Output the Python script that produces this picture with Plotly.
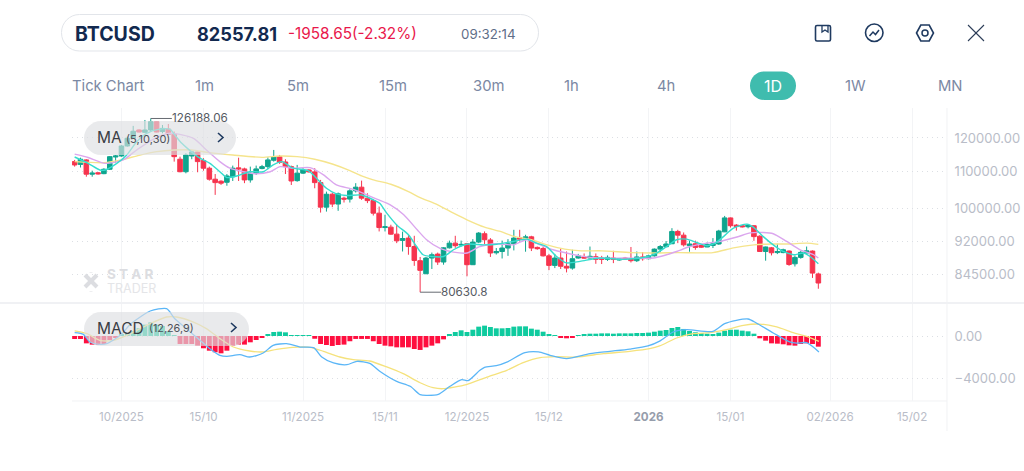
import math
import plotly.graph_objects as go
from plotly.subplots import make_subplots

W, H = 1024, 471

# Daily BTCUSD candles, prices in thousands of USD
candle_open = [
    112.9,112.1,113.4,109.3,109.7,109.45,110.7,114.25,114.55,117.55,
    119.9,122.5,121.75,122.5,125.15,122.0,122.8,121.15,113.6,110.0,
    114.55,115.75,113.2,111.0,107.9,107.35,107.05,108.6,111.1,110.8,
    107.7,109.6,110.9,111.45,113.3,114.35,112.8,111.45,107.5,109.6,
    110.5,109.95,106.95,100.4,103.8,101.2,102.75,102.5,104.7,105.7,
    102.75,102.1,98.85,95.25,95.35,93.65,92.15,92.7,90.7,87.45,
    84.55,88.05,88.95,87.15,90.4,91.5,91.05,91.35,86.55,91.75,
    93.75,92.25,89.25,89.55,90.35,91.35,92.75,92.6,93.0,90.5,
    90.25,88.55,86.4,88.05,86.2,85.8,88.05,88.3,88.05,88.35,
    88.05,87.75,88.05,87.6,88.05,87.9,87.45,88.3,87.9,88.55,
    90.1,90.65,91.35,94.3,93.4,90.9,91.35,90.95,90.6,90.95,
    91.3,94.2,97.65,95.85,95.7,95.45,95.7,93.15,89.55,90.4,
    89.3,89.3,89.65,86.75,88.2,89.2,89.65,84.51646]
candle_high = [
    113.39,114.05,113.6,110.3,109.9,111.0,114.55,114.85,117.85,120.4,
    123.8,122.7,125.7,126.18806,125.2,124.09,124.4,122.0,114.35,115.35,
    116.05,115.85,113.9,111.45,109.35,107.6,109.35,111.75,114.05,111.15,
    111.45,111.75,111.95,114.15,116.35,114.85,113.6,111.75,111.95,111.0,
    110.7,111.0,107.7,104.5,104.25,104.25,103.15,105.15,106.8,107.5,
    104.05,102.5,100.55,98.45,95.95,95.95,94.25,93.5,93.25,88.3,
    88.3,89.3,89.3,90.55,92.1,93.25,92.1,91.5,92.45,94.15,
    94.3,92.7,90.35,92.1,92.45,94.7,94.7,93.5,93.25,90.7,
    90.7,89.0,89.0,90.25,89.55,89.95,89.0,89.1,90.7,89.1,
    88.55,88.65,89.7,88.05,88.3,90.6,89.55,89.4,88.8,90.25,
    91.05,92.0,95.1,94.7,94.05,92.1,92.1,91.1,91.65,92.7,
    94.7,98.15,97.75,96.1,95.85,96.15,95.85,93.4,90.7,90.6,
    91.35,90.2,89.8,88.65,89.65,90.7,89.8,84.8]
candle_low = [
    111.45,111.2,108.6,108.6,109.2,109.3,110.5,112.6,114.35,117.35,
    119.7,121.75,121.65,122.0,121.75,121.45,120.93,112.9,109.85,109.55,
    113.6,109.85,110.3,107.5,103.62,106.32,106.1,107.4,107.4,106.8,
    106.95,109.1,110.7,110.7,112.9,112.25,109.35,106.3,107.2,109.35,
    109.75,105.4,99.0,99.25,100.4,99.45,101.6,101.6,104.25,102.3,
    101.45,98.25,94.3,94.3,93.5,91.5,89.55,88.8,86.3,80.6308,
    84.5,85.6,86.5,86.55,90.25,90.4,90.7,84.0,86.5,91.5,
    91.3,88.3,88.85,87.95,88.55,89.8,91.85,89.5,89.65,89.95,
    88.4,85.35,85.8,85.6,84.85,85.45,87.9,87.95,87.95,86.75,
    86.7,87.4,86.9,87.45,87.65,87.05,87.15,87.45,87.75,88.4,
    89.3,90.55,91.3,91.5,90.7,89.5,89.95,90.35,90.55,90.35,
    91.1,94.15,95.25,94.5,95.25,95.05,92.05,89.5,87.45,88.65,
    88.95,89.15,86.3,86.15,87.9,89.05,83.65,81.35]
candle_close = [
    111.94,113.6,109.3,109.6,109.4,110.7,114.35,114.55,117.55,119.9,
    122.1,121.85,122.5,125.15,121.85,123.0,121.15,114.35,110.0,114.85,
    115.75,112.9,111.0,107.9,106.95,106.8,108.8,111.0,110.8,107.7,
    109.6,110.8,111.45,113.4,114.35,112.7,111.45,107.4,109.6,110.5,
    109.95,106.95,100.4,103.8,101.2,103.9,102.5,104.7,105.7,102.75,
    102.1,98.85,95.25,95.45,93.65,92.05,92.6,90.7,87.5,85.3,
    88.05,88.8,87.15,90.4,91.5,90.9,91.2,86.55,91.75,93.9,
    92.3,89.2,89.55,90.35,91.35,92.7,92.45,93.0,90.35,90.2,
    88.55,86.4,88.05,86.2,85.8,87.9,88.55,88.05,88.45,87.75,
    87.75,88.2,87.75,87.9,87.85,87.45,88.3,87.9,88.55,90.1,
    90.7,91.3,94.3,93.4,91.1,91.3,90.5,90.55,91.2,91.35,
    94.4,97.65,95.7,95.5,95.45,95.85,93.05,89.55,90.6,89.25,
    89.55,89.95,86.6,88.2,89.35,89.7,84.7,82.55781]

# Moving averages, sampled at the listed candle numbers
ma5_idx = [0,2.3,4.3,5.2,7.2,8.9,10.6,12.3,14.3,16.3,17.1,18.3,19.4,21.4,23.1,24.8,26,27.7,29.9,32.2,33.9,35.4,37.3,39.9,41.3,43,44.7,46.4,49,51,52.1,53.3,55,57,58.4,59.5,61,63,64.7,66.9,69.8,72.1,74.9,77.2,78.9,80.6,82.3,84,86.3,89.7,93.7,97.7,99.4,101.1,102.8,104.5,106.2,108,109.4,110.8,112.5,114.8,115.9,117.6,119.3,121,122.8,124.5,125.6,127]
ma5_val = [114.25,112.4,110.5,110.5,112.4,114.85,118.85,121.45,122.7,122.7,120.9,118.35,116.6,113.9,112.4,110,108.35,108.8,110,110,111.95,112.9,111,110.3,108.15,105.4,103.9,103.45,103.6,102.3,101.4,98.85,95.9,93.5,90.7,88.8,88.4,88.4,89.95,91.25,91.1,91.25,91.9,92.45,91.5,90.7,88.4,86.95,87.3,88.05,87.75,88.35,89.2,90.7,92.3,92.45,91.65,90.9,91.5,93.05,95.1,96.1,95.35,93.05,91.1,89.55,88.8,89.2,88.4,86.75]
ma10_idx = [0,2.3,5.2,8.3,10.6,13.4,16.3,20.3,22.5,24.8,26.5,28.8,31,33.4,35.1,37.3,40.2,42.5,44.7,47.6,51.6,53.9,56.2,58.5,60.1,62.4,64.7,67,69.2,72.1,74.9,77.2,79.5,81.7,84,86.3,89.7,94,98.8,101.1,102.8,105.1,108,110.2,113.1,115.4,117.6,119.3,121.6,123.9,126.2,127]
ma10_val = [115.1,114.1,112.4,113.4,116.35,119.6,121.45,119.9,116.35,112.9,111,110,109.4,110,111.45,111,111.15,109.1,106.3,105.1,102.5,101,98.45,94.7,92.3,90.25,89.4,89.2,90.7,91.35,91.1,92.3,91.1,89.95,89.2,88.55,88.05,88.05,88.05,88.8,89.55,90.7,91.5,91.9,92.95,93.95,94.05,93.75,91.9,89.95,88.8,88.05]
ma30_idx = [0,5,8,11,14,17,20,23,27,32,35,38,41,44,47,49,51,54,57,59,62,64.7,67,70,72.7,75,78,80.7,83.7,86.5,90,95,99,103,109,112.5,116,119,122,125,127]
ma30_val = [112.9,112.6,113.4,114.75,115.85,116.35,116.35,115.55,114.85,114.15,114.55,114.35,113.6,112.2,110.3,108.8,107.7,106.5,104.5,102.9,101,98.85,97.17,95.35,94.3,93.1,92.3,91.1,90.1,89.7,89.7,89.3,89.2,89.3,89.3,90.4,91.1,91.3,91.3,91.5,91.2]

# MACD(12,26,9) histogram for every candle
macd_hist = [
    -285,-285,-700,-825,-860,-760,-380,-190,190,250,
    450,750,1080,1300,1080,950,450,60,-760,-760,
    -760,-920,-1170,-1400,-1550,-1650,-1400,-920,-820,-820,
    -600,-380,-190,190,380,410,350,30,30,30,
    20,-260,-760,-860,-950,-860,-820,-500,-280,-280,
    -280,-500,-760,-920,-985,-1080,-1080,-1080,-1240,-1330,
    -1080,-920,-700,-320,190,380,540,380,600,890,
    985,860,730,730,760,890,920,920,700,600,
    410,130,60,-160,-220,-100,20,130,220,220,
    250,250,220,250,250,250,285,285,320,410,
    510,570,760,860,670,480,350,285,220,190,
    320,510,600,600,510,445,220,-220,-445,-700,
    -730,-790,-890,-920,-760,-700,-760,-1015]

dif_idx = [0,1.5,2.6,4.3,5.5,7.8,9.5,11.2,12.9,15.7,17.1,19.1,21.4,23.1,24.8,26,28.2,29.9,32.2,33.9,36.2,38.5,40.8,42.2,44.2,46.5,48.2,50.4,52.1,55,57.3,59,60.1,62.1,64.1,66.1,67.2,69.2,70,72,73.8,76.9,79.2,81.2,84,88,91.4,94.8,97.9,99.9,102.2,104.5,109,111,113,115,116.4,119.3,122.1,123.3,125,127.1]
dif_val = [320,160,-570,-790,-730,60,1110,1810,2380,2600,1650,700,-410,-1210,-1840,-1940,-1780,-2000,-1620,-890,-730,-1050,-1110,-2000,-2570,-2730,-2410,-2600,-3350,-4320,-4790,-5590,-5650,-5560,-4790,-4160,-4250,-3270,-2980,-2830,-2480,-1590,-1520,-1840,-2160,-1680,-1460,-1240,-950,-490,380,600,440,1170,1490,1620,1240,290,-570,-670,-640,-1520]
dea_idx = [0,2.1,4.3,6.6,8.9,12.3,15.7,17.4,20.3,22.5,24.8,27.1,29.9,32.2,34.5,37.3,40.2,42.5,45.3,47.6,50.4,53.3,56.1,59,61.2,62.9,66.9,70.4,73.8,76.6,79.5,82.3,85.7,90.3,94.8,98.2,99.9,102.8,105.6,108.5,111.3,114.2,117,119.9,122.7,125,127.1]
dea_val = [480,220,-410,-410,60,1020,1810,1810,1330,700,-250,-1050,-1430,-1520,-1270,-1080,-1080,-1460,-2000,-2250,-2380,-2950,-3590,-4450,-4920,-5020,-4640,-3910,-3270,-2540,-2060,-1970,-2000,-1680,-1460,-1210,-950,-190,220,320,600,1020,1140,860,320,-30,-510]

# Axis ticks
date_ticks = [8,22,39,53,67,81,98,112,129,143]
date_labels = ["10/2025","15/10","11/2025","15/11","12/2025","15/12",
               "<b><span style=\"color:#969dab\">2026</span></b>","15/01","02/2026","15/02"]
price_ticks = [120000,110000,100000,92000,84500]
price_labels = ["120000.00","110000.00","100000.00","92000.00","84500.00"]
macd_ticks = [0,-4000]
macd_labels = ["0.00","\u22124000.00"]

# Header and timeframe strip
symbol = "BTCUSD"
last_price = "82557.81"
change_text = "-1958.65(-2.32%)"
clock_text = "09:32:14"
timeframes = [("Tick Chart",70,"left"),("1m",204,"center"),("5m",298,"center"),("15m",393,"center"),
              ("30m",488,"center"),("1h",571,"center"),("4h",666,"center"),("1W",855,"center"),("MN",950,"center")]

FONT = "Inter"
UP, DOWN = "#0fa48e", "#f6344e"


def X(p):
    return p / W


def Y(p):
    return 1 - p / H


def pane_path(points, close=False):
    d = "M" + " L".join(f"{X(a):.5f},{Y(b):.5f}" for a, b in points)
    return d + (" Z" if close else "")


def pill_path(x0, y0, x1, y1, r):
    k = r * 0.45
    return (f"M{X(x0+r):.5f},{Y(y0):.5f} L{X(x1-r):.5f},{Y(y0):.5f} "
            f"C{X(x1-k):.5f},{Y(y0):.5f} {X(x1):.5f},{Y(y0+k):.5f} {X(x1):.5f},{Y(y0+r):.5f} "
            f"L{X(x1):.5f},{Y(y1-r):.5f} "
            f"C{X(x1):.5f},{Y(y1-k):.5f} {X(x1-k):.5f},{Y(y1):.5f} {X(x1-r):.5f},{Y(y1):.5f} "
            f"L{X(x0+r):.5f},{Y(y1):.5f} "
            f"C{X(x0+k):.5f},{Y(y1):.5f} {X(x0):.5f},{Y(y1-k):.5f} {X(x0):.5f},{Y(y1-r):.5f} "
            f"L{X(x0):.5f},{Y(y0+r):.5f} "
            f"C{X(x0):.5f},{Y(y0+k):.5f} {X(x0+k):.5f},{Y(y0):.5f} {X(x0+r):.5f},{Y(y0):.5f} Z")


def usd(series):
    return [v * 1000 for v in series]


idx = list(range(len(candle_close)))

fig = make_subplots(rows=2, cols=1, shared_xaxes=True)

fig.add_trace(go.Candlestick(
    x=idx, open=usd(candle_open), high=usd(candle_high), low=usd(candle_low), close=usd(candle_close),
    increasing=dict(line=dict(color=UP, width=1), fillcolor=UP),
    decreasing=dict(line=dict(color=DOWN, width=1), fillcolor=DOWN),
    whiskerwidth=0, showlegend=False), row=1, col=1)

for xs, ys, color in [(ma30_idx, ma30_val, "#f5e48c"), (ma10_idx, ma10_val, "#dba6ee"), (ma5_idx, ma5_val, "#35ddce")]:
    fig.add_trace(go.Scatter(x=xs, y=usd(ys), mode="lines", showlegend=False,
                             line=dict(color=color, width=1.4, shape="spline", smoothing=0.7)), row=1, col=1)

fig.add_trace(go.Bar(x=idx, y=macd_hist, showlegend=False, width=0.84,
                     marker=dict(color=["#0fcb9f" if v >= 0 else "#ff0f3f" for v in macd_hist], line=dict(width=0))),
              row=2, col=1)
fig.add_trace(go.Scatter(x=dea_idx, y=dea_val, mode="lines", showlegend=False,
                         line=dict(color="#f5e27c", width=1.3, shape="spline", smoothing=0.7)), row=2, col=1)
fig.add_trace(go.Scatter(x=dif_idx, y=dif_val, mode="lines", showlegend=False,
                         line=dict(color="#5bb6f7", width=1.3, shape="spline", smoothing=0.7)), row=2, col=1)

tick_font = dict(family=FONT, size=13, color="#b9bdc8")
x_left = -0.45
x_right = 148.97

fig.update_xaxes(range=[x_left, x_right], domain=[X(72), X(947)], rangeslider_visible=False,
                 tickmode="array", tickvals=date_ticks, ticktext=date_labels,
                 showgrid=True, gridcolor="#f3f4f6", gridwidth=1, zeroline=False, showline=False,
                 tickfont=dict(family=FONT, size=11.6, color="#b9bdc8"),
                 ticks="outside", ticklen=5, tickcolor="rgba(0,0,0,0)")
fig.update_xaxes(showticklabels=False, ticks="", row=1, col=1)

grid = dict(showgrid=True, gridcolor="#dcdfe4", gridwidth=1, griddash="1px,4px", zeroline=False,
            showline=False, side="right", tickmode="array", tickfont=tick_font,
            ticks="outside", ticklen=4, tickcolor="rgba(0,0,0,0)")
fig.update_yaxes(type="log", range=[math.log10(78616), math.log10(129640)], domain=[Y(302), Y(108)],
                 tickvals=price_ticks, ticktext=price_labels, **grid, row=1, col=1)
fig.update_yaxes(range=[-6190, 3047], domain=[Y(401), Y(304)],
                 tickvals=macd_ticks, ticktext=macd_labels, **grid, row=2, col=1)

shapes = []
annotations = []


def label(x, y, text, size, color, anchor="left", family=FONT):
    annotations.append(dict(xref="paper", yref="paper", x=X(x), y=Y(y), text=text, showarrow=False,
                            xanchor=anchor, yanchor="middle", align=anchor,
                            font=dict(family=family, size=size, color=color)))


def stroke(points, color, width, layer="above", close=False, fill=None):
    shapes.append(dict(type="path", xref="paper", yref="paper", path=pane_path(points, close),
                       line=dict(color=color, width=width), fillcolor=fill or "rgba(0,0,0,0)", layer=layer))


# Pane frame lines
stroke([(0, 303), (1024, 303)], "#e2e4e9", 1.2, layer="below")
stroke([(72, 401), (947, 401)], "#f1f2f4", 1, layer="below")
stroke([(947, 108), (947, 431)], "#f1f2f4", 1, layer="below")

# High and low markers on the price pane
hi = candle_high.index(max(candle_high))
lo = candle_low.index(min(candle_low))
for i, v, span in [(hi, candle_high[hi], 3.6), (lo, candle_low[lo], 3.6)]:
    shapes.append(dict(type="line", xref="x", yref="y", x0=i, x1=i + span, y0=v * 1000, y1=v * 1000,
                       line=dict(color="#666a72", width=1)))
    annotations.append(dict(xref="x", yref="y", x=i + span - 0.3, y=math.log10(v * 1000),
                            text=f"{v*1000:.2f}".rstrip("0"), showarrow=False, xanchor="left", yanchor="middle",
                            font=dict(family=FONT, size=11.7, color="#555a63")))

# Watermark
for a, b in [((85, 275), (97, 287)), ((97, 275), (85, 287))]:
    stroke([a, b], "#dcdde1", 4, layer="below")
for c in [(91, 272), (91, 291)]:
    stroke([c, (c[0], c[1] + 0.5)], "#dcdde1", 3, layer="below")
label(105, 274, "<b>S T A R</b>", 13.5, "#dcdde1")
label(105, 288, "TRADER", 12.5, "#e4e5e8")

# Indicator pills
for box, r in [((84, 121, 236, 155), 17), ((84, 312, 249, 346), 17)]:
    shapes.append(dict(type="path", xref="paper", yref="paper", path=pill_path(*box, r),
                       fillcolor="rgba(221,222,226,0.65)", line=dict(width=0), layer="above"))
label(95, 138, "MA", 15.5, "#3a3d44")
label(124, 138.5, "(5,10,30)", 11, "#4d5058")
stroke([(218, 133), (223, 137.5), (218, 142)], "#1f3a60", 1.6)
label(95, 328, "MACD", 15.5, "#3a3d44")
label(147, 328.5, "(12,26,9)", 10.8, "#4d5058")
stroke([(231, 323), (236, 327.5), (231, 332)], "#1f3a60", 1.6)

# Quote header
shapes.append(dict(type="path", xref="paper", yref="paper", path=pill_path(61.5, 14.5, 538.5, 51, 18),
                   fillcolor="#ffffff", line=dict(color="#e2e5ea", width=1), layer="above"))
label(73, 34, f"<b>{symbol}</b>", 19.5, "#12294f")
label(195, 34, f"<b>{last_price}</b>", 18.2, "#12294f")
label(286, 34, change_text, 15.3, "#e9174b")
label(459, 34, clock_text, 13.3, "#5f6e88")

# Timeframe strip
for text, x, anchor in timeframes:
    label(x, 86, text, 14.8, "#7b88a3", anchor=anchor)
shapes.append(dict(type="path", xref="paper", yref="paper", path=pill_path(750, 71.5, 796, 100, 14),
                   fillcolor="#3fbcae", line=dict(width=0), layer="above"))
label(773, 86, "1D", 16, "#ffffff", anchor="center")

# Toolbar icons
NAVY = "#1f3a60"
shapes.append(dict(type="path", xref="paper", yref="paper", path=pill_path(815.5, 25.5, 830.5, 41, 1.5),
                   fillcolor="rgba(0,0,0,0)", line=dict(color=NAVY, width=1.6), layer="above"))
stroke([(822, 25.5), (822, 32), (825, 30), (828, 32), (828, 25.5)], NAVY, 1.3)
shapes.append(dict(type="circle", xref="paper", yref="paper", x0=X(865.5), x1=X(883), y0=Y(41.5), y1=Y(24),
                   line=dict(color=NAVY, width=1.6), layer="above"))
stroke([(869.5, 36), (873, 32), (875.5, 34.5), (879, 30)], NAVY, 1.5)
stroke([(916.5, 33), (920.8, 25), (929.2, 25), (933.5, 33), (929.2, 41), (920.8, 41)], NAVY, 1.6, close=True)
shapes.append(dict(type="circle", xref="paper", yref="paper", x0=X(922), x1=X(928), y0=Y(36), y1=Y(30),
                   line=dict(color=NAVY, width=1.5), layer="above"))
stroke([(968, 25), (984, 41)], "#2c3d58", 1.1)
stroke([(984, 25), (968, 41)], "#2c3d58", 1.1)

fig.update_layout(width=W, height=H, autosize=False, margin=dict(l=0, r=0, t=0, b=0, pad=0),
                  paper_bgcolor="#ffffff", plot_bgcolor="#ffffff", showlegend=False,
                  bargap=0.16, boxgap=0.22, boxgroupgap=0, shapes=shapes, annotations=annotations,
                  font=dict(family=FONT), hovermode=False)

fig.write_html("out.html")
